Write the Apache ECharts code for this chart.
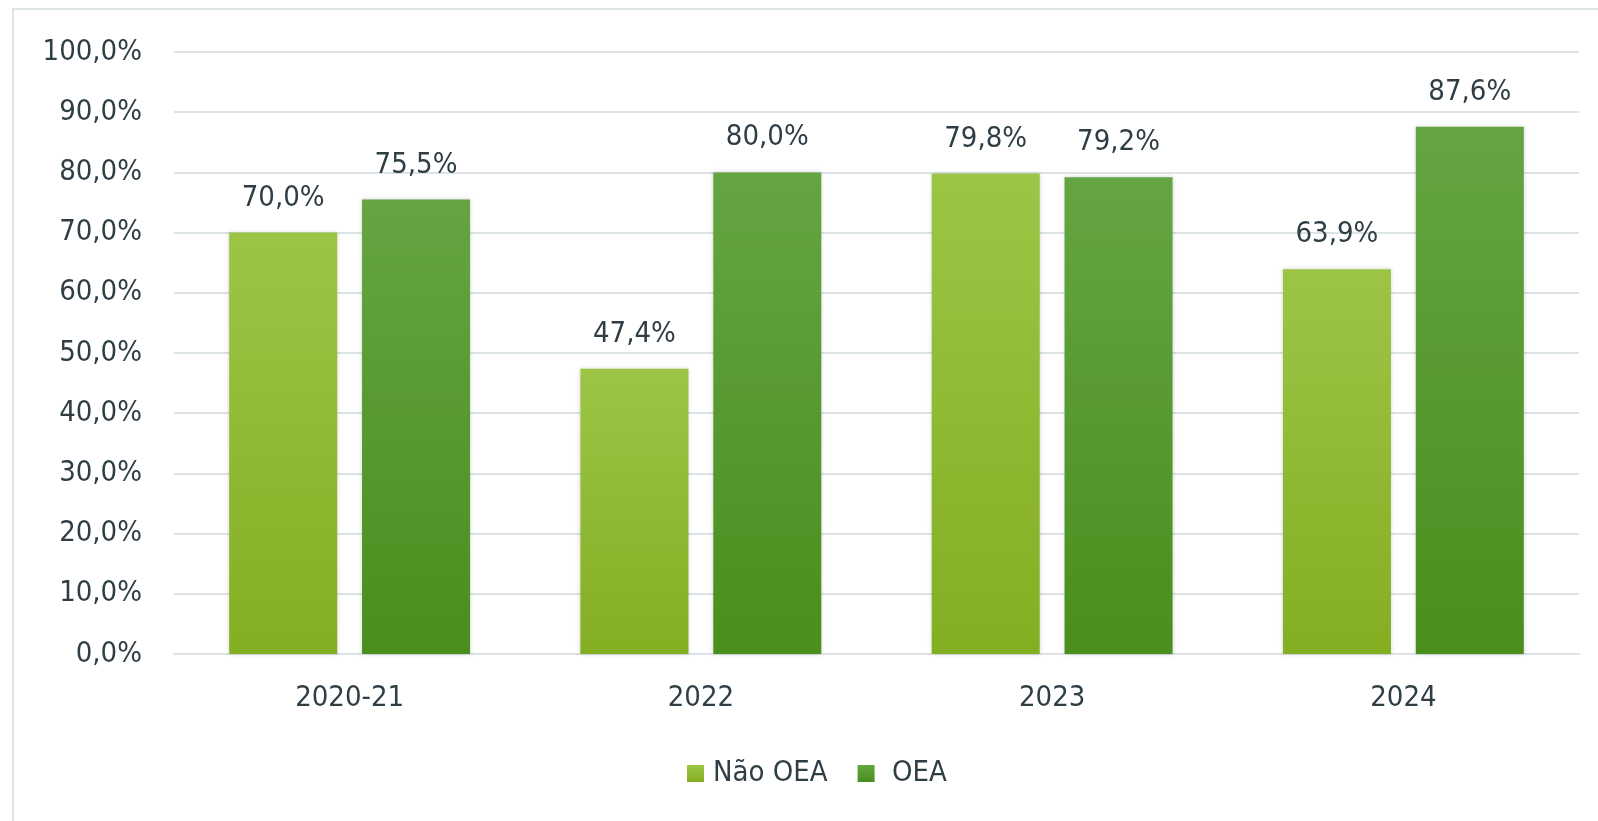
<!DOCTYPE html>
<html>
<head>
<meta charset="utf-8">
<script src="https://cdn.jsdelivr.net/npm/echarts@6/dist/echarts.min.js"></script>
<style>
  html, body { margin: 0; padding: 0; background: #fff; }
  #frame {
    position: absolute; left: 12px; top: 8px; width: 1600px; height: 830px;
    border: 2px solid #dde4e8; box-sizing: border-box;
  }
  #chart { position: absolute; left: 0; top: 0; width: 1598px; height: 821px; }
</style>
</head>
<body>
<div id="frame"></div>
<div id="chart"></div>
<script>
// dados
const categorias = ['2020-21', '2022', '2023', '2024']
const naoOEA = [70.0, 47.4, 79.8, 63.9]
const oea = [75.5, 80.0, 79.2, 87.6]

const fmt = v => v.toFixed(1).replace('.', ',') + '%'
const fonte = 'Tahoma, "DejaVu Sans Condensed", "DejaVu Sans", sans-serif'
const corTexto = '#2f3d45'
const tam = 29

const chart = echarts.init(document.getElementById('chart'))

const barra = (nome, valores, cTopo, cBase) => ({
  name: nome,
  type: 'bar',
  data: valores,
  barWidth: 108,
  barGap: '23%',
  itemStyle: {
    color: new echarts.graphic.LinearGradient(0, 0, 0, 1, [
      { offset: 0, color: cTopo },
      { offset: 1, color: cBase }
    ]),
    shadowBlur: 4,
    shadowColor: 'rgba(0,0,0,0.18)'
  },
  label: {
    show: true,
    position: 'top',
    distance: 20,
    fontFamily: fonte,
    fontSize: tam,
    color: corTexto,
    formatter: p => fmt(p.value)
  }
})

chart.setOption({
  animation: false,
  grid: { left: 174, right: 19, top: 52, bottom: 167 },
  legend: {
    bottom: 28,
    left: 682,
    itemWidth: 17,
    itemHeight: 17,
    itemGap: 30,
    icon: 'rect',
    formatter: n => n === 'OEA' ? ' ' + n : n,
    textStyle: { fontFamily: fonte, fontSize: tam, color: corTexto, padding: [0, 0, 0, 4] }
  },
  xAxis: {
    type: 'category',
    data: categorias,
    axisTick: { show: false },
    axisLine: { lineStyle: { color: '#dbe3e7', width: 2 } },
    axisLabel: { fontFamily: fonte, fontSize: tam, color: corTexto, margin: 30 }
  },
  yAxis: {
    type: 'value',
    min: 0,
    max: 100,
    interval: 10,
    axisLabel: { fontFamily: fonte, fontSize: tam, color: corTexto, margin: 32, formatter: v => fmt(v) },
    splitLine: { lineStyle: { color: '#dbe3e7', width: 2 } }
  },
  series: [
    barra('Não OEA', naoOEA, '#9cc546', '#84ae22'),
    barra('OEA', oea, '#64a542', '#4a8e1d')
  ]
})
</script>
</body>
</html>
